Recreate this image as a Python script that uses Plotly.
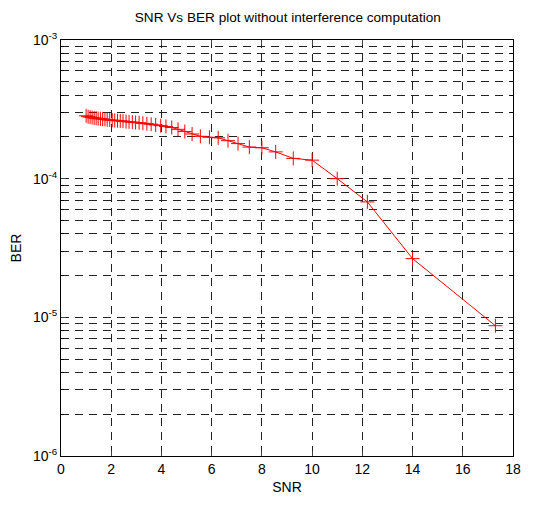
import plotly.graph_objects as go

snr = [1.0, 1.08, 1.16, 1.24, 1.32, 1.40, 1.48, 1.57, 1.66, 1.75, 1.84, 1.94,
       2.04, 2.14, 2.25, 2.36, 2.47, 2.59, 2.71, 2.84, 2.97, 3.11, 3.26, 3.42,
       3.59, 3.77, 3.97, 4.18, 4.41, 4.66, 4.93, 5.22, 5.55, 5.91, 6.26, 6.65,
       7.05, 7.5, 8.0, 8.55, 9.25, 10.0, 11.0, 12.2, 14.0, 17.3]
ber = [2.84e-4, 2.80e-4, 2.78e-4, 2.76e-4, 2.74e-4, 2.73e-4, 2.71e-4, 2.70e-4,
       2.69e-4, 2.68e-4, 2.66e-4, 2.65e-4, 2.64e-4, 2.63e-4, 2.62e-4, 2.61e-4,
       2.60e-4, 2.58e-4, 2.57e-4, 2.56e-4, 2.54e-4, 2.53e-4, 2.51e-4, 2.49e-4,
       2.47e-4, 2.44e-4, 2.41e-4, 2.38e-4, 2.34e-4, 2.27e-4, 2.19e-4, 2.10e-4,
       2.02e-4, 1.99e-4, 1.97e-4, 1.88e-4, 1.79e-4, 1.69e-4, 1.67e-4, 1.56e-4,
       1.40e-4, 1.36e-4, 1.0e-4, 6.8e-5, 2.65e-5, 8.7e-6]

x_ticks = [0, 2, 4, 6, 8, 10, 12, 14, 16, 18]
y_major = [1e-6, 1e-5, 1e-4, 1e-3]
y_major_text = ["10<sup>-6</sup>", "10<sup>-5</sup>", "10<sup>-4</sup>", "10<sup>-3</sup>"]
y_minor = [m * d for d in [1e-6, 1e-5, 1e-4] for m in range(2, 10)]

font = "Liberation Sans, Arial, sans-serif"
grid_dash = "8px,6px"

fig = go.Figure()
fig.add_trace(go.Scatter(
    x=snr, y=ber, mode="lines+markers",
    line=dict(color="red", width=1),
    marker=dict(symbol="cross-thin", size=10, line=dict(color="red", width=1)),
    showlegend=False,
))

fig.update_layout(
    width=533, height=505,
    margin=dict(l=61, r=20, t=40, b=42),
    paper_bgcolor="white", plot_bgcolor="white",
    font=dict(family=font, size=14, color="black"),
    title=dict(text="SNR Vs BER plot without interference computation",
               x=0.54, xanchor="center", y=0.965, yanchor="middle",
               font=dict(size=13.6)),
    xaxis=dict(
        title=dict(text="SNR", standoff=6, font=dict(size=14)),
        range=[0, 18], tickvals=x_ticks, ticks="inside", ticklen=5,
        showline=True, linecolor="black", linewidth=1, mirror="ticks",
        showgrid=True, gridcolor="#222", gridwidth=1, griddash=grid_dash,
        zeroline=False, tickfont=dict(size=14),
    ),
    yaxis=dict(
        title=dict(text="BER", standoff=8, font=dict(size=14)),
        type="log", range=[-6, -3], tickvals=y_major, ticktext=y_major_text,
        ticks="inside", ticklen=5,
        showline=True, linecolor="black", linewidth=1, mirror="ticks",
        showgrid=True, gridcolor="#222", gridwidth=1, griddash=grid_dash,
        zeroline=False, tickfont=dict(size=14),
        minor=dict(tickvals=y_minor, ticks="inside", ticklen=3, tickcolor="black",
                   showgrid=True, gridcolor="#222", gridwidth=1, griddash=grid_dash),
    ),
)

fig.write_html("out.html")
